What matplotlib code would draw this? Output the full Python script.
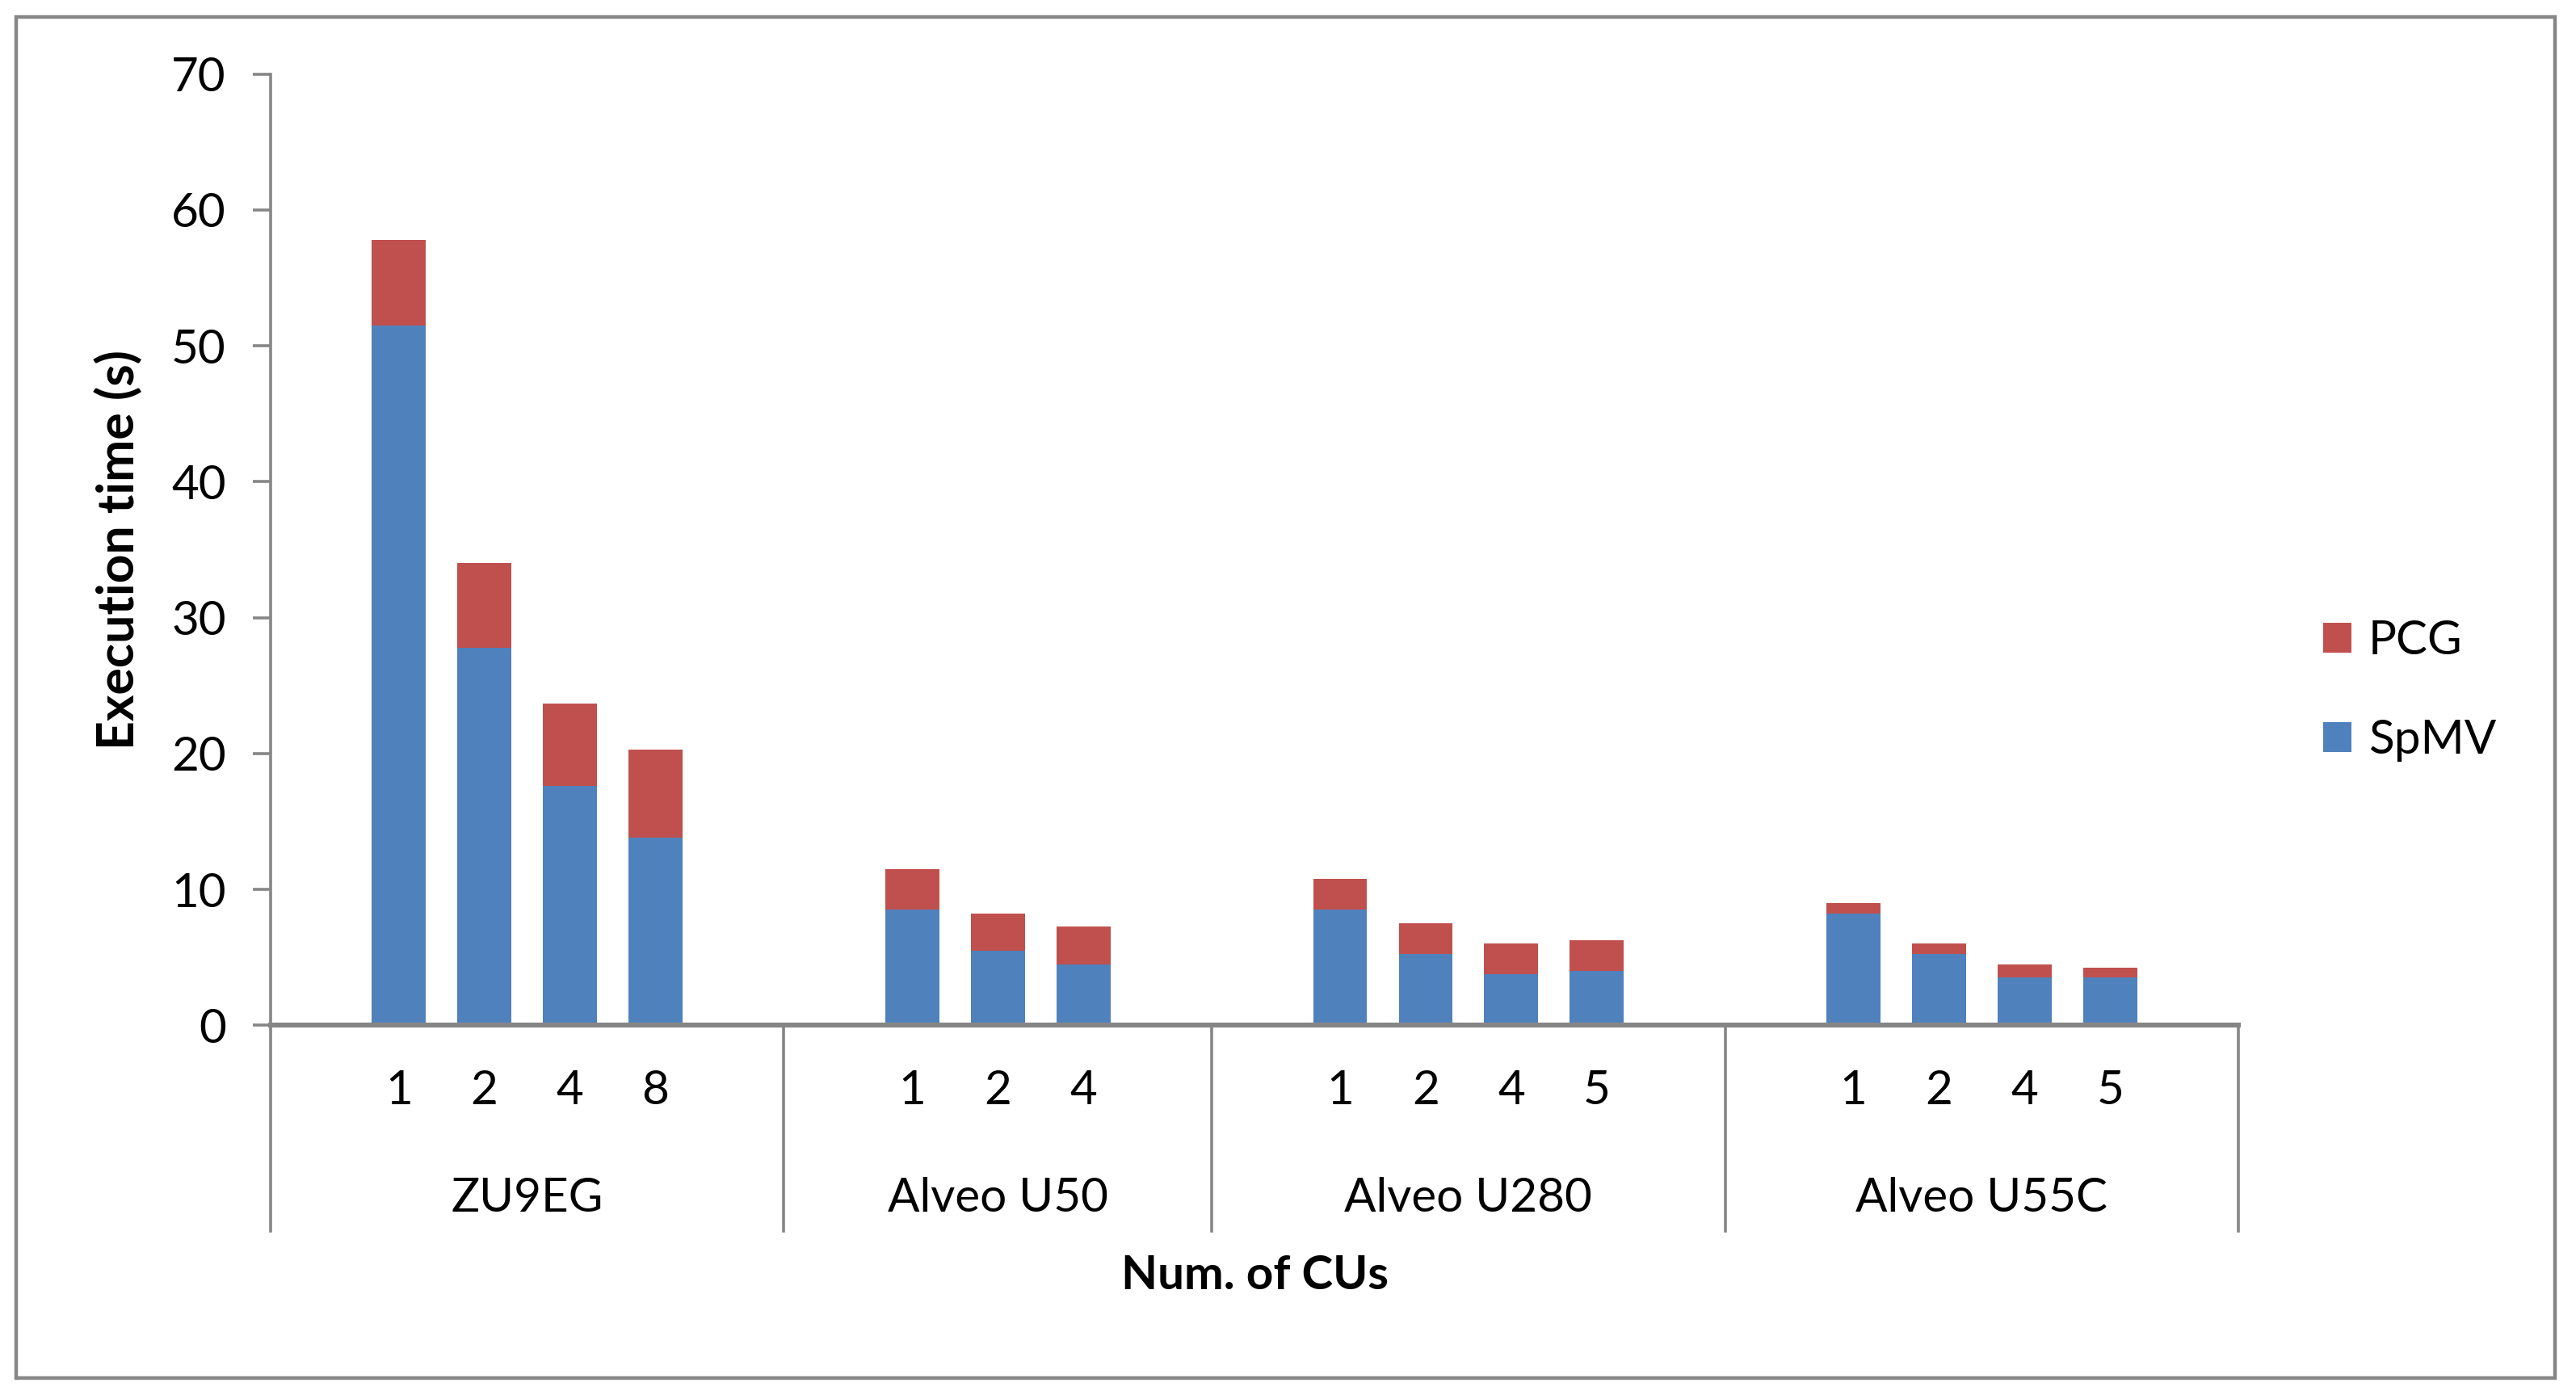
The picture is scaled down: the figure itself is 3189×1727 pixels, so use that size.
import matplotlib
matplotlib.use("Agg")
from matplotlib import pyplot as plt
from matplotlib.patches import Rectangle
from matplotlib.lines import Line2D
import matplotlib.transforms as mtransforms

plt.rcParams['font.family'] = ['Lato', 'DejaVu Sans']

# data
groups = ["ZU9EG", "Alveo U50", "Alveo U280", "Alveo U55C"]
cu_labels = [["1", "2", "4", "8"], ["1", "2", "4"], ["1", "2", "4", "5"], ["1", "2", "4", "5"]]
spmv = [51.5, 27.8, 17.6, 13.8,
        8.5, 5.5, 4.5,
        8.5, 5.25, 3.75, 4.0,
        8.25, 5.25, 3.5, 3.5]
pcg = [6.3, 6.2, 6.1, 6.5,
       3.0, 2.75, 2.75,
       2.25, 2.25, 2.25, 2.25,
       0.75, 0.75, 1.0, 0.75]

blue = "#4F81BD"
red = "#C0504D"
grey = "#868686"
fs = 21

# each group: one empty slot, the bars, one empty slot (like the Excel sheet)
xpos = []
group_edges = [-0.5]
group_centres = []
slot = 0
for labels in cu_labels:
    start = slot
    slot += 1
    for _ in labels:
        xpos.append(slot)
        slot += 1
    slot += 1
    group_edges.append(slot - 0.5)
    group_centres.append((start + slot - 1) / 2)
tick_text = [lab for labels in cu_labels for lab in labels]

fig = plt.figure(figsize=(15.945, 8.635), dpi=200)
ax = fig.add_axes([0.105, 0.265, 0.764, 0.682])

ax.bar(xpos, spmv, width=0.63, color=blue, label="SpMV", zorder=2)
ax.bar(xpos, pcg, width=0.63, bottom=spmv, color=red, label="PCG", zorder=2)

ax.set_xlim(group_edges[0], group_edges[-1])
ax.set_ylim(0, 70)
ax.set_yticks(range(0, 71, 10))
ax.tick_params(axis='y', direction='out', length=7.8, width=1.3, color=grey,
               labelsize=fs, pad=12)
ax.set_xticks([])

for side in ["top", "right"]:
    ax.spines[side].set_visible(False)
ax.spines["left"].set_color(grey)
ax.spines["left"].set_linewidth(1.3)
ax.spines["bottom"].set_color(grey)
ax.spines["bottom"].set_linewidth(2.2)

# category labels below the axis
trans = mtransforms.blended_transform_factory(ax.transData, ax.transAxes)
for x, t in zip(xpos, tick_text):
    ax.text(x, -0.069, t, transform=trans, ha='center', va='center', fontsize=fs)
for x, g in zip(group_centres, groups):
    ax.text(x, -0.182, g, transform=trans, ha='center', va='center', fontsize=fs)
for e in group_edges:
    ax.add_line(Line2D([e, e], [0, -0.216], transform=trans, color=grey,
                       lw=1.3, clip_on=False))

ax.text(0.5, -0.263, "Num. of CUs", transform=ax.transAxes, ha='center', va='center',
        fontsize=fs, fontweight='bold')
fig.text(0.046, 0.606, "Execution time (s)", rotation=90, ha='center', va='center',
         fontsize=22.5, fontweight='bold')

# legend, PCG on top
handles, labels = ax.get_legend_handles_labels()
fig.legend(handles[::-1], labels[::-1], loc='center left', bbox_to_anchor=(0.902, 0.505),
           frameon=False, fontsize=fs, handlelength=0.6, handleheight=0.6,
           handletextpad=0.35, labelspacing=1.2, borderpad=0, borderaxespad=0)

# chart border
fig.patches.append(Rectangle((0.0064, 0.012), 0.9856, 0.976, transform=fig.transFigure,
                             fill=False, edgecolor=grey, lw=1.6))

fig.savefig("out.png", dpi=200)
